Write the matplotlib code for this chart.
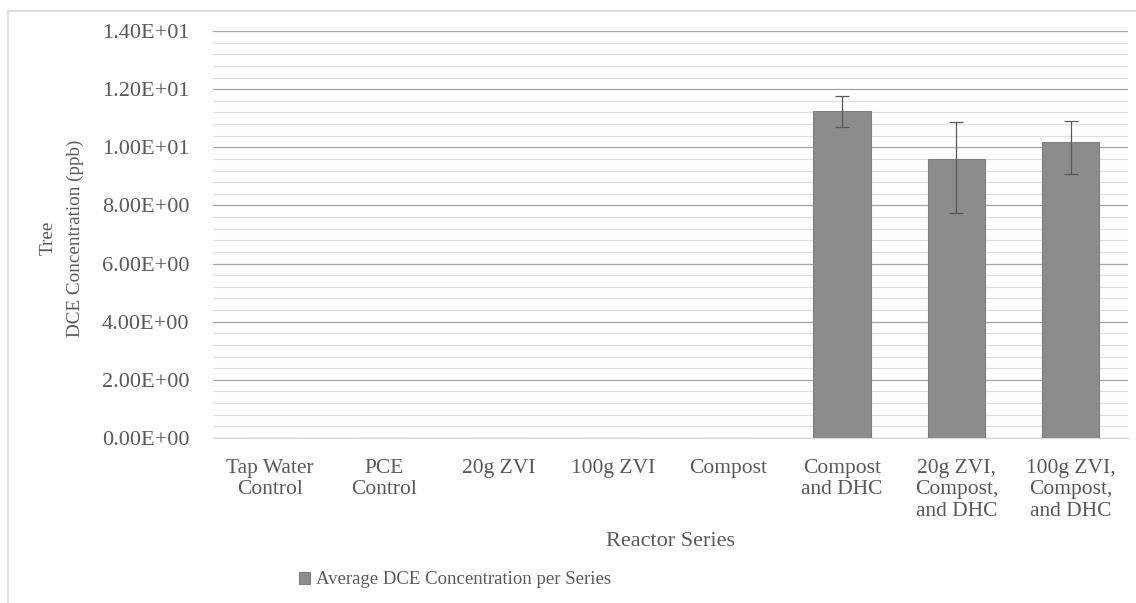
import matplotlib.pyplot as plt
from matplotlib.ticker import MultipleLocator, FuncFormatter
from matplotlib.patches import Rectangle

categories = ['Tap Water\nControl', 'PCE\nControl', '20g ZVI', '100g ZVI', 'Compost',
              'Compost\nand DHC', '20g ZVI,\nCompost,\nand DHC', '100g ZVI,\nCompost,\nand DHC']
avg_dce = [0, 0, 0, 0, 0, 11.26, 9.59, 10.17]
err_low = [0, 0, 0, 0, 0, 0.55, 1.85, 1.08]
err_high = [0, 0, 0, 0, 0, 0.50, 1.29, 0.75]
show_err = [False, False, False, False, False, True, True, True]

plt.rcParams['font.family'] = ['Liberation Serif', 'DejaVu Serif']
txt = '#595959'

fig = plt.figure(figsize=(11.36, 6.03), dpi=100)
# light frame of the chart area
fig.patches.append(Rectangle((8 / 1136, -0.1), 1.2, 1 - 11 / 603 + 0.1, transform=fig.transFigure,
                             fill=False, edgecolor='#d9d9d9', linewidth=1.2))
ax = fig.add_axes([213 / 1136, 1 - 438 / 603, (1128 - 213) / 1136, (438 - 31) / 603])

x = list(range(len(categories)))
ax.bar(x, avg_dce, width=0.5, color='#8c8c8c', edgecolor='#7f7f7f', linewidth=0.8,
       label='Average DCE Concentration per Series', zorder=3)
ex = [i for i in x if show_err[i]]
ax.errorbar(ex, [avg_dce[i] for i in ex],
            yerr=[[err_low[i] for i in ex], [err_high[i] for i in ex]],
            fmt='none', ecolor='#595959', elinewidth=0.9, capsize=5, capthick=0.9, zorder=4)

ax.set_xlim(-0.5, len(categories) - 0.5)
ax.set_ylim(0, 14)
ax.yaxis.set_major_locator(MultipleLocator(2))
ax.yaxis.set_minor_locator(MultipleLocator(0.4))
ax.yaxis.set_major_formatter(FuncFormatter(lambda v, p: '{:.2E}'.format(v)))
ax.grid(which='major', axis='y', color='#a6a6a6', linewidth=0.9, zorder=0)
ax.grid(which='minor', axis='y', color='#e0e0e0', linewidth=0.9, zorder=0)
for s in ['top', 'right', 'left']:
    ax.spines[s].set_visible(False)
ax.spines['bottom'].set_color('#d9d9d9')
ax.tick_params(axis='y', which='both', length=0, labelsize=16, labelcolor=txt, pad=17)
ax.tick_params(axis='x', length=0, labelsize=15.5, labelcolor=txt, pad=15)
ax.set_xticks(x)
ax.set_xticklabels(categories, linespacing=1.18, va='top')

ax.set_xlabel('Reactor Series', fontsize=16, color=txt, labelpad=8)
fig.text(62 / 1136, 1 - 238 / 603, 'Tree\nDCE Concentration (ppb)', rotation=90,
         ha='center', va='center', fontsize=13.8, color=txt, linespacing=1.75)

fig.legend(loc='center', bbox_to_anchor=(455 / 1136, 1 - 580 / 603), frameon=False,
           fontsize=13.5, labelcolor=txt, handlelength=0.6, handleheight=0.6, handletextpad=0.3)

fig.savefig('out.png', dpi=100)
